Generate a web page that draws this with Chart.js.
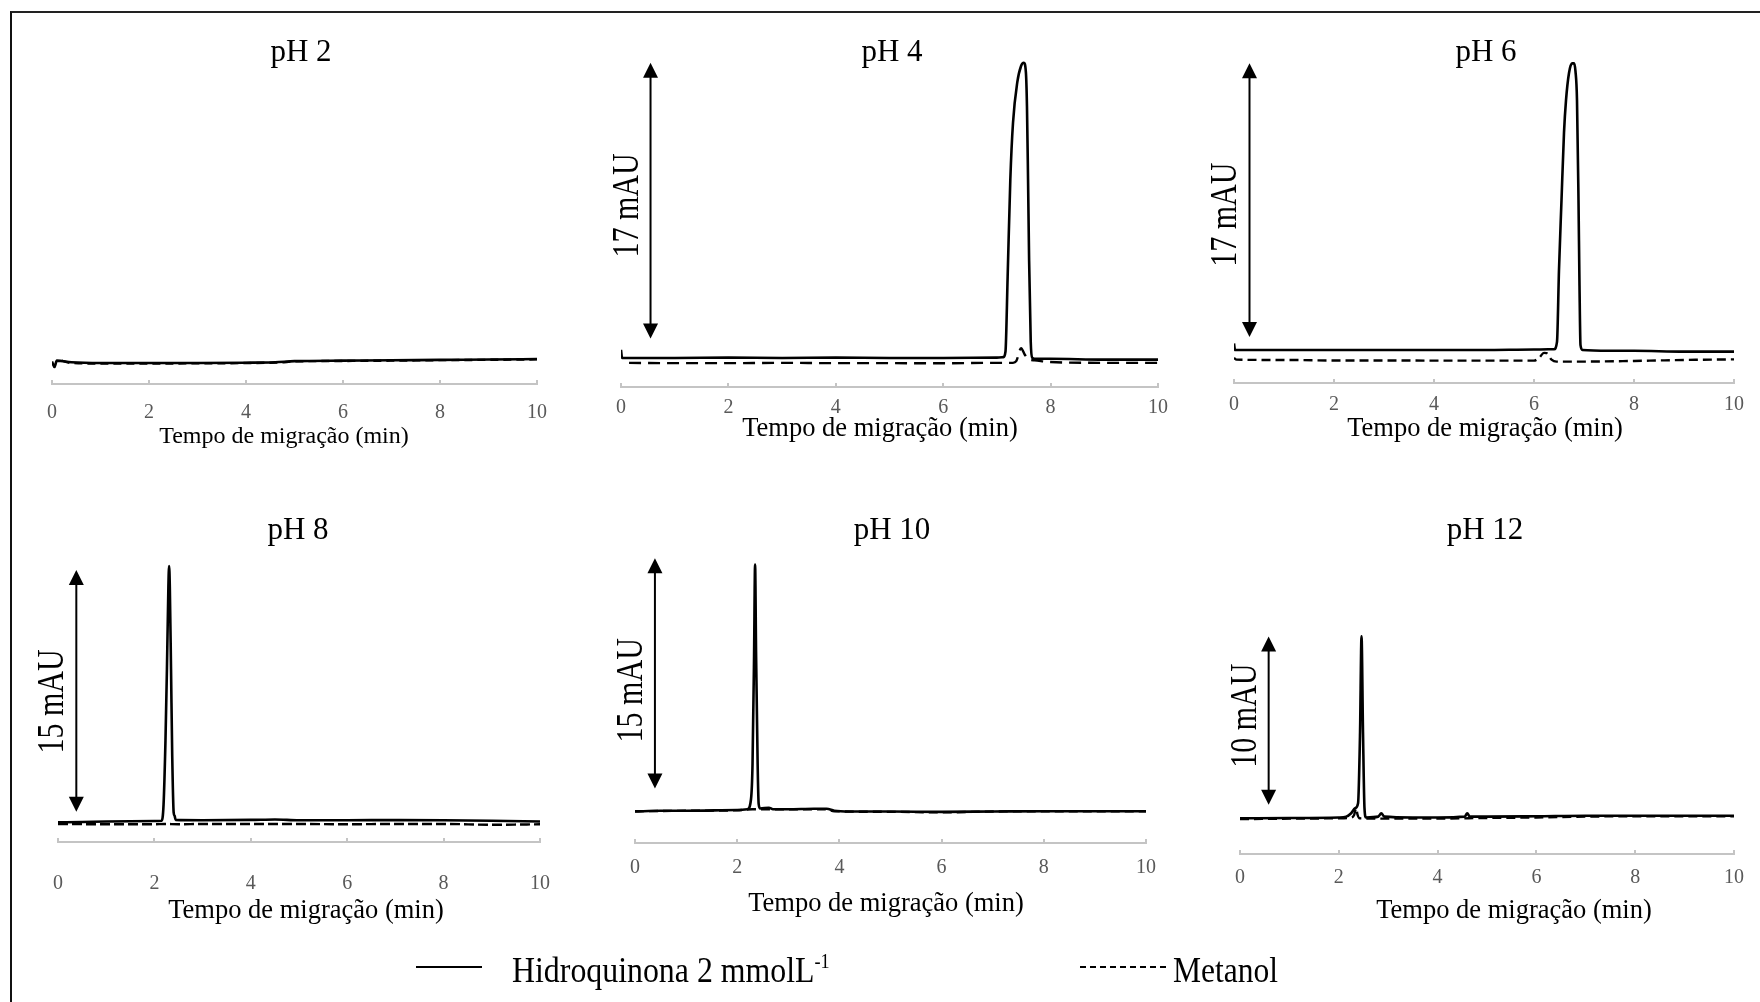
<!DOCTYPE html>
<html lang="pt">
<head>
<meta charset="utf-8">
<title>Eletroferogramas da hidroquinona em diferentes pH</title>
<script src="https://cdn.jsdelivr.net/npm/chart.js@4.4.1/dist/chart.umd.min.js"></script>
<style>
  body { margin: 0; background: #fff; }
  #figura { position: relative; width: 1760px; height: 1002px; overflow: hidden; background: #fff;
            font-family: "Liberation Serif", "Times New Roman", serif; color: #000; }
  #moldura { position: absolute; left: 10px; top: 11px; width: 1760px; height: 1000px;
             border-left: 2px solid #111; border-top: 2px solid #222; }
  canvas { position: absolute; left: 0; top: 0; }
  .linha { position: absolute; height: 2px; }
  .texto { position: absolute; font-size: 35px; line-height: 35px; white-space: nowrap;
           transform-origin: left center; }
  .texto sup { font-size: 20px; vertical-align: 14px; line-height: 0; }
</style>
</head>
<body>
<div id="figura">
  <div id="moldura"></div>
  <canvas id="g0" width="1760" height="1002"></canvas>
  <canvas id="g1" width="1760" height="1002"></canvas>
  <canvas id="g2" width="1760" height="1002"></canvas>
  <canvas id="g3" width="1760" height="1002"></canvas>
  <canvas id="g4" width="1760" height="1002"></canvas>
  <canvas id="g5" width="1760" height="1002"></canvas>

  <!-- legenda comum aos seis gráficos -->
  <div class="linha" style="left:416px; top:966px; width:66px; background:#000;"></div>
  <div class="texto" style="left:512px; top:953px; transform:scaleX(0.91);">Hidroquinona 2 mmolL<sup>-1</sup></div>
  <div class="linha" style="left:1080px; top:966px; width:88px;
       background:repeating-linear-gradient(to right, #000 0 6px, transparent 6px 10px);"></div>
  <div class="texto" style="left:1173px; top:953px; transform:scaleX(0.9);">Metanol</div>
</div>

<script>
// títulos e eixo x
const titulos = ['pH 2', 'pH 4', 'pH 6', 'pH 8', 'pH 10', 'pH 12'];
const eixoTitulo = 'Tempo de migração (min)';
const xTicks = [0, 2, 4, 6, 8, 10];

// eletroferogramas: [tempo (min), absorbância (mAU)]
const hqPH2 = [[0, 0.1], [0.05, -0.25], [0.1, 0.15], [0.4, 0.05], [1, 0], [2, 0], [3, 0], [4, 0.02], [4.6, 0.05],
  [5, 0.12], [6, 0.15], [7, 0.17], [8, 0.2], [9, 0.22], [10, 0.25]];
const metPH2 = [[0.2, 0.15], [0.4, 0], [1, -0.03], [2, -0.03], [3, -0.02], [4, 0], [4.7, 0.04], [5, 0.1],
  [6, 0.13], [7, 0.15], [8, 0.18], [9, 0.2], [10, 0.23]];

const hqPH4 = [[0, 0.5], [0.02, 0], [1, 0], [2, 0.02], [3, 0], [4, 0.02], [5, 0], [6, 0], [7, 0.02], [7.12, 0.05],
  [7.16, 0.4], [7.2, 5], [7.25, 11], [7.3, 14.5], [7.38, 17], [7.45, 18], [7.5, 18.2], [7.54, 17.6], [7.56, 15.5],
  [7.58, 11], [7.6, 6], [7.63, 1], [7.66, 0], [7.7, -0.05], [8, -0.05], [9, -0.1], [10, -0.1]];
const metPH4 = [[0.15, -0.3], [1, -0.32], [2, -0.32], [3, -0.3], [4, -0.32], [5, -0.32], [6, -0.33], [7, -0.3],
  [7.3, -0.3], [7.36, -0.2], [7.45, 0.6], [7.52, 0.2], [7.6, -0.1], [7.7, -0.15], [8, -0.25], [9, -0.3], [10, -0.3]];

const hqPH6 = [[0, 0.4], [0.02, 0], [1, 0], [2, 0], [3, 0], [4, 0], [5, 0], [6, 0.03], [6.4, 0.05], [6.46, 0.5],
  [6.5, 5], [6.55, 9.3], [6.6, 13.5], [6.64, 15.5], [6.7, 17.2], [6.76, 17.8], [6.8, 17.8], [6.83, 17.3],
  [6.86, 15.5], [6.89, 9.3], [6.91, 4], [6.93, 0.3], [6.97, 0], [7.5, -0.05], [8, -0.05], [9, -0.1], [10, -0.1]];
const metPH6 = [[0, -0.5], [0.05, -0.6], [1, -0.62], [2, -0.65], [3, -0.65], [4, -0.66], [5, -0.66], [6, -0.66],
  [6.1, -0.5], [6.2, -0.18], [6.25, -0.2], [6.35, -0.6], [6.45, -0.72], [7, -0.72], [8, -0.68], [9, -0.62], [10, -0.58]];

const hqPH8 = [[0, -0.1], [0.5, -0.08], [1, -0.05], [2, -0.02], [2.15, 0], [2.19, 1], [2.23, 5], [2.26, 9.4],
  [2.29, 14.5], [2.305, 15.8], [2.32, 14.5], [2.345, 9.4], [2.37, 4], [2.4, 0.5], [2.42, 0.3], [2.44, 0.05],
  [3, 0.03], [4, 0.05], [4.5, 0.08], [5, 0.03], [6, 0.03], [7, 0.04], [8, 0.03], [9, 0], [10, -0.05]];
const metPH8 = [[0, -0.2], [1, -0.22], [2, -0.22], [2.2, -0.2], [2.5, -0.22], [3, -0.2], [4, -0.2], [5, -0.2],
  [6, -0.22], [7, -0.2], [8, -0.2], [9, -0.25], [10, -0.22]];

const hqPH10 = [[0, -0.1], [0.5, -0.05], [1, -0.05], [2, 0], [2.2, 0.05], [2.27, 0.7], [2.3, 3], [2.33, 10],
  [2.35, 16], [2.37, 10], [2.4, 3], [2.42, 0.4], [2.45, 0.1], [2.62, 0.15], [2.7, 0.05], [3, 0.05], [3.5, 0.08],
  [3.75, 0.08], [3.9, -0.05], [4.2, -0.1], [5, -0.1], [6, -0.12], [7, -0.1], [8, -0.08], [9, -0.08], [10, -0.08]];
const metPH10 = [[0, -0.08], [1, -0.05], [2, -0.02], [2.3, 0.05], [2.5, 0.05], [3, 0.05], [3.7, 0.05], [3.9, -0.08],
  [5, -0.12], [6, -0.15], [7, -0.1], [8, -0.08], [10, -0.08]];

const hqPH12 = [[0, -0.1], [1, -0.08], [2, -0.05], [2.15, 0], [2.25, 0.2], [2.33, 0.5], [2.39, 0.8], [2.43, 5],
  [2.46, 10.7], [2.49, 5], [2.52, 0.5], [2.55, -0.05], [2.8, 0], [2.86, 0.2], [2.92, 0], [3.5, -0.05], [4, -0.05],
  [4.55, 0], [4.6, 0.2], [4.65, 0], [5, 0], [6, 0.02], [7, 0.05], [8, 0.05], [9, 0.05], [10, 0.05]];
const metPH12 = [[0, -0.15], [1, -0.12], [2, -0.1], [2.25, -0.05], [2.31, 0.1], [2.35, 0.5], [2.38, 0.1],
  [2.42, -0.1], [3, -0.12], [4, -0.12], [5, -0.08], [6, -0.05], [7, 0], [8, 0.02], [9, 0.02], [10, 0.02]];

const hq = [hqPH2, hqPH4, hqPH6, hqPH8, hqPH10, hqPH12];
const met = [metPH2, metPH4, metPH6, metPH8, metPH10, metPH12];

// faixa do eixo y (oculto) em mAU
const yMin = [-1.31, -1.79, -2.05, -1.32, -2.15, -2.22];
const yMax = [20.19, 19.6, 19.25, 19.9, 20.2, 18.8];

// barras de escala (setas duplas)
const barraTempo = [null, 0.55, 0.31, 0.38, 0.39, 0.58];
const barraBase = [null, 1.2, 0.8, 0.55, 1.4, 0.7];
const barraValor = [null, 17, 17, 15, 15, 10];
const barraTexto = [null, '17 mAU', '17 mAU', '15 mAU', '15 mAU', '10 mAU'];
const barraTextoY = [null, 9.4, 8.4, 7.4, 7.8, 6.0];

// posição de cada painel na página (px)
const paineis = [
  { x0: 52, x10: 537, topo: 40, eixo: 384, rotuloY: 413, titX: 301, titY: 61, eixoX: 284, eixoY: 443, eixoFonte: 24, traco: [8, 5] },
  { x0: 621, x10: 1158, topo: 40, eixo: 387, rotuloY: 408, titX: 892, titY: 61, eixoX: 880, eixoY: 436, eixoFonte: 26.5, traco: [12, 7] },
  { x0: 1234, x10: 1734, topo: 40, eixo: 383, rotuloY: 405, titX: 1486, titY: 61, eixoX: 1485, eixoY: 436, eixoFonte: 26.5, traco: [9, 5] },
  { x0: 58, x10: 540, topo: 500, eixo: 842, rotuloY: 884, titX: 298, titY: 539, eixoX: 306, eixoY: 918, eixoFonte: 26.5, traco: [10, 4] },
  { x0: 635, x10: 1146, topo: 500, eixo: 843, rotuloY: 868, titX: 892, titY: 539, eixoX: 886, eixoY: 911, eixoFonte: 26.5, traco: [9, 5] },
  { x0: 1240, x10: 1737, topo: 500, eixo: 854, rotuloY: 878, titX: 1485, titY: 539, eixoX: 1514, eixoY: 918, eixoFonte: 26.5, traco: [9, 5] },
];

const FONTE = '"Liberation Serif", "Times New Roman", serif';
const ALTURA = 1002, LARGURA = 1760;
const TICK_FONTE = 20, TICK_LEN = -4;

// títulos, título do eixo e barra de escala
const anotacoes = {
  id: 'anotacoes',
  afterDraw(chart, args, opts) {
    const i = opts.painel;
    const p = paineis[i];
    const ctx = chart.ctx;
    ctx.save();
    ctx.fillStyle = '#000';
    ctx.textAlign = 'center';
    ctx.textBaseline = 'alphabetic';
    ctx.font = '31px ' + FONTE;
    ctx.fillText(titulos[i], p.titX, p.titY);
    ctx.font = p.eixoFonte + 'px ' + FONTE;
    ctx.fillText(eixoTitulo, p.eixoX, p.eixoY);

    if (barraValor[i]) {
      const xs = chart.scales.x, ys = chart.scales.y;
      const x = xs.getPixelForValue(barraTempo[i]);
      const yb = ys.getPixelForValue(barraBase[i]);
      const yt = ys.getPixelForValue(barraBase[i] + barraValor[i]);
      ctx.strokeStyle = '#000';
      ctx.lineWidth = 2;
      ctx.beginPath();
      ctx.moveTo(x, yt + 10);
      ctx.lineTo(x, yb - 10);
      ctx.stroke();
      ctx.beginPath();
      ctx.moveTo(x, yt); ctx.lineTo(x - 7.5, yt + 15); ctx.lineTo(x + 7.5, yt + 15);
      ctx.closePath(); ctx.fill();
      ctx.beginPath();
      ctx.moveTo(x, yb); ctx.lineTo(x - 7.5, yb - 15); ctx.lineTo(x + 7.5, yb - 15);
      ctx.closePath(); ctx.fill();

      ctx.translate(x - 23, ys.getPixelForValue(barraTextoY[i]));
      ctx.rotate(-Math.PI / 2);
      ctx.scale(0.79, 1);
      ctx.font = '38px ' + FONTE;
      ctx.textBaseline = 'middle';
      ctx.fillText(barraTexto[i], 0, 0);
    }
    ctx.restore();
  }
};

function pontos(pares) {
  return pares.map(([x, y]) => ({ x, y }));
}

function desenhar() {
  Chart.defaults.font.family = FONTE;
  paineis.forEach((p, i) => {
    const lh = TICK_FONTE * 1.2;
    new Chart(document.getElementById('g' + i), {
      type: 'line',
      data: {
        datasets: [
          {
            label: 'Hidroquinona 2 mmolL-1',
            data: pontos(hq[i]),
            borderColor: '#000',
            borderWidth: 2.6,
            pointRadius: 0,
            cubicInterpolationMode: 'monotone',
            order: 0
          },
          {
            label: 'Metanol',
            data: pontos(met[i]),
            borderColor: '#000',
            borderWidth: 2.4,
            borderDash: p.traco,
            pointRadius: 0,
            cubicInterpolationMode: 'monotone',
            order: 1
          }
        ]
      },
      options: {
        responsive: false,
        animation: false,
        devicePixelRatio: 1,
        events: [],
        layout: {
          padding: { left: p.x0, right: LARGURA - p.x10, top: p.topo, bottom: 0 }
        },
        plugins: {
          legend: { display: false },
          tooltip: { enabled: false },
          anotacoes: { painel: i }
        },
        scales: {
          x: {
            type: 'linear',
            min: 0,
            max: 10,
            afterBuildTicks: (s) => { s.ticks = xTicks.map(v => ({ value: v })); },
            afterFit: (s) => { s.height = ALTURA - p.eixo; },
            ticks: {
              font: { size: TICK_FONTE, family: FONTE },
              color: '#595959',
              padding: p.rotuloY - p.eixo - TICK_LEN - lh / 2,
              autoSkip: false,
              maxRotation: 0
            },
            grid: {
              drawOnChartArea: false,
              drawTicks: true,
              tickLength: TICK_LEN,
              color: '#c4c4c4',
              lineWidth: 2
            },
            border: { display: true, color: '#c4c4c4', width: 2 }
          },
          y: {
            display: false,
            min: yMin[i],
            max: yMax[i]
          }
        }
      },
      plugins: [anotacoes]
    });
  });
}

document.fonts.load('20px "Liberation Serif"').then(desenhar, desenhar);
</script>
</body>
</html>
